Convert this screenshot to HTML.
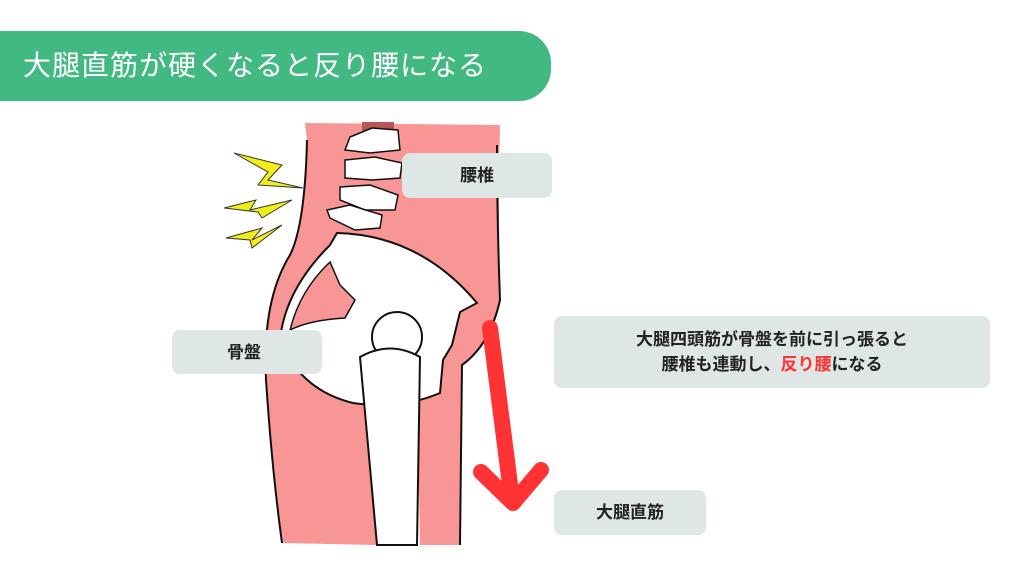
<!DOCTYPE html>
<html><head><meta charset="utf-8"><style>
*{margin:0;padding:0;box-sizing:border-box}
body{width:1024px;height:576px;background:#fff;position:relative;overflow:hidden;font-family:"Liberation Sans","Noto Sans CJK JP",sans-serif}
.hdr{position:absolute;left:0;top:31px;width:551px;height:70px;background:#42b883;border-radius:0 32px 32px 0;color:#fff;font-size:28px;line-height:70px;padding-left:23px;letter-spacing:1px;white-space:nowrap}
.lb{position:absolute;background:#dfe6e6;border-radius:8px;color:#222;font-size:17px;font-weight:bold;text-align:center;line-height:25px}
svg{position:absolute;left:0;top:0}
</style></head><body>
<div class="hdr">大腿直筋が硬くなると反り腰になる</div>
<svg width="1024" height="576" viewBox="0 0 1024 576">
<path d="M305 123 L500 125 Q498 200 500 300 Q490 345 462 365 L460 545 L420 545 L417 380 L377 545 L282 543 Q272 470 266 380 Q262 300 290 255 Q305 225 307 140 Z" fill="#f89595"/>
<path d="M307 140 Q305 225 290 255 Q262 300 266 380 Q272 470 282 543" fill="none" stroke="#111" stroke-width="2"/>
<path d="M497 145 Q497 220 500 300 Q490 345 462 365 L460 545" fill="none" stroke="#111" stroke-width="2"/>
<rect x="362" y="122" width="32" height="12" fill="#b55"/>
<path d="M350 137 L372 128 L398 130 L400 150 L370 153 L345 150 Z M345 160 L375 157 L402 163 L400 178 L372 180 L345 178 Z M340 187 L370 185 L398 195 L395 210 L365 210 L340 200 Z M327 210 L350 205 L382 215 L380 228 L355 230 L330 218 Z" fill="#fff" stroke="#111" stroke-width="1.5"/>
<path d="M337 233 Q420 235 477 303 L460 312 L452 345 L443 360 L440 393 Q400 410 353 403 Q300 390 280 340 Q285 290 330 245 Z" fill="#fff" stroke="#111" stroke-width="2"/>
<path d="M330 262 Q300 290 290 330 Q310 320 345 318 L355 300 L340 285 Z" fill="#f89595" stroke="#111" stroke-width="1.5"/>
<circle cx="397" cy="337" r="25" fill="#fff" stroke="#111" stroke-width="2"/>
<path d="M360 357 Q390 340 420 357 L417 545 L377 545 Z" fill="#fff" stroke="#111" stroke-width="2"/>
<g fill="#f2ee1a" stroke="#333" stroke-width="1">
<path d="M234 153 L282 165 L268 180 L303 188 L258 185 L268 172 Z"/>
<path d="M224 208 L256 200 L250 210 L292 200 L262 218 L258 212 Z"/>
<path d="M226 238 L262 228 L252 240 L282 225 L252 248 L250 240 Z"/>
</g>
<path d="M490 328 L512 500" stroke="#f33" stroke-width="16" stroke-linecap="round" fill="none"/>
<path d="M481 472 L513 503 L541 470" stroke="#f33" stroke-width="16" stroke-linecap="round" stroke-linejoin="round" fill="none"/>
</svg>
<div class="lb" style="left:402px;top:153px;width:150px;height:45px;padding-top:10px">腰椎</div>
<div class="lb" style="left:172px;top:330px;width:150px;height:44px;padding-top:10px;text-align:left;padding-left:55px">骨盤</div>
<div class="lb" style="left:554px;top:316px;width:436px;height:72px;padding-top:11px">大腿四頭筋が骨盤を前に引っ張ると<br>腰椎も連動し、<span style="color:#f33">反り腰</span>になる</div>
<div class="lb" style="left:554px;top:490px;width:152px;height:45px;padding-top:10px">大腿直筋</div>
</body></html>
